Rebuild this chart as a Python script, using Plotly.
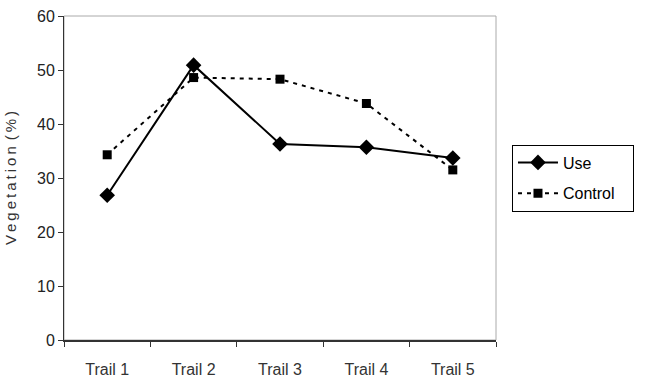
import plotly.graph_objects as go

categories = ["Trail 1", "Trail 2", "Trail 3", "Trail 4", "Trail 5"]
use_vals = [26.8, 50.9, 36.3, 35.7, 33.7]
control_vals = [34.3, 48.6, 48.3, 43.8, 31.5]
y_ticks = [0, 10, 20, 30, 40, 50, 60]

fig = go.Figure()
fig.add_trace(go.Scatter(
    x=categories, y=use_vals, name="Use", mode="lines+markers",
    legendgroup="a",
    line=dict(color="black", width=2),
    marker=dict(symbol="diamond", size=12, color="black"),
))
fig.add_trace(go.Scatter(
    x=categories, y=control_vals, name="Control\u00a0\u00a0\u00a0", mode="lines+markers",
    legendgroup="b",
    line=dict(color="black", width=2, dash="4px,5px"),
    marker=dict(symbol="square", size=9, color="black"),
))

fig.update_layout(
    width=645, height=379,
    margin=dict(l=64, r=149, t=16, b=39, autoexpand=False),
    paper_bgcolor="white", plot_bgcolor="white",
    font=dict(family="Liberation Sans, Arial, sans-serif", size=16, color="#222"),
    showlegend=True,
    legend=dict(
        x=1.037, y=0.5, xanchor="left", yanchor="middle",
        bordercolor="black", borderwidth=1, bgcolor="white",
        font=dict(size=16, color="black"),
        tracegroupgap=7, itemwidth=40,
    ),
    shapes=[dict(type="rect", xref="paper", yref="paper", x0=0, y0=0, x1=1, y1=1,
                 line=dict(color="#aaaaaa", width=1), layer="below")],
)
fig.update_xaxes(
    type="category", range=[-0.5, 4.5], automargin=False,
    showline=True, linecolor="#333", linewidth=2,
    ticks="outside", ticklen=5, tickcolor="#333", tickson="boundaries",
    showgrid=False, zeroline=False,
    tickfont=dict(size=16, color="#333"),
    ticklabelstandoff=14,
)
fig.update_yaxes(
    range=[0, 60], tickvals=y_ticks, automargin=False,
    showline=True, linecolor="#333", linewidth=1,
    ticks="outside", ticklen=5, tickcolor="#333",
    showgrid=False, zeroline=False,
    tickfont=dict(size=16, color="#222"),
    title=dict(text="V\u2009e\u2009g\u2009e\u2009t\u2009a\u2009t\u2009i\u2009o\u2009n\u2009\u2009(\u2009%\u2009)",
               font=dict(size=15, color="#333"), standoff=16),
)

fig.write_html("out.html")
